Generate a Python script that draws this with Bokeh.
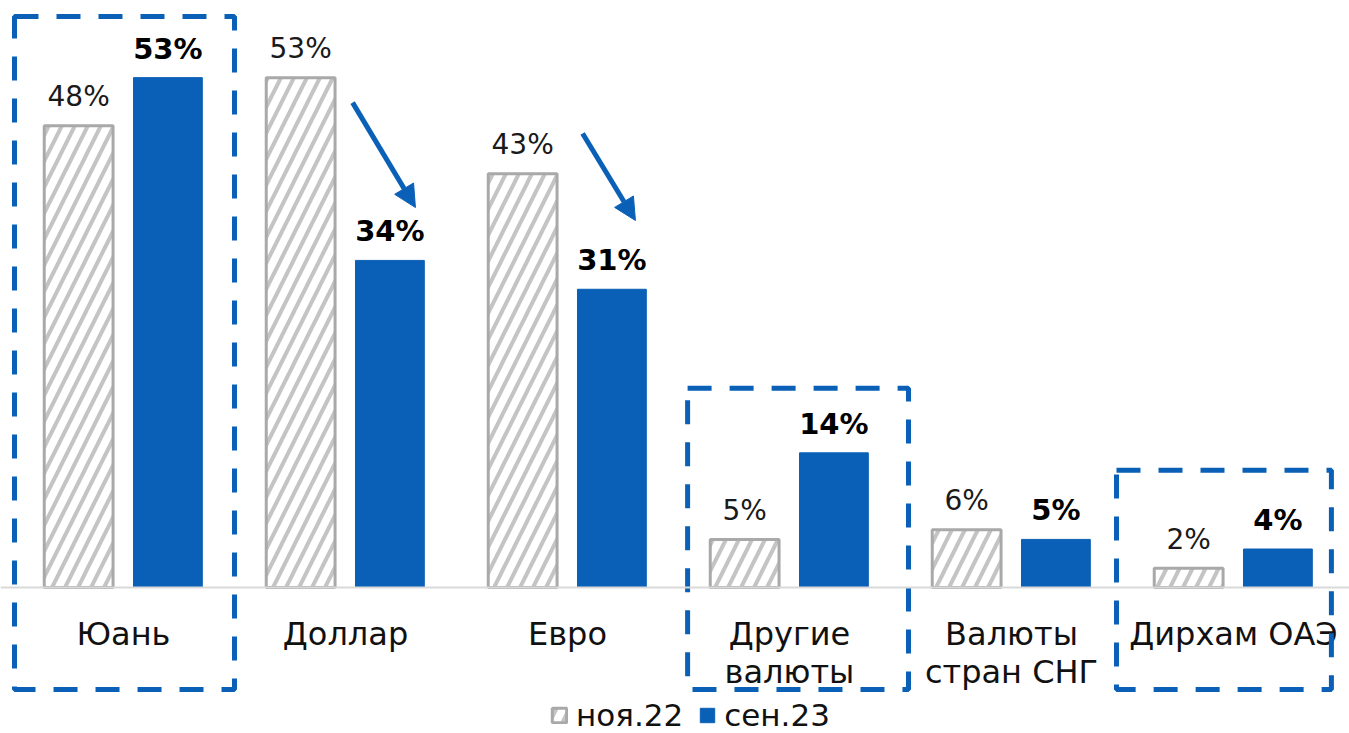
from bokeh.plotting import figure
from bokeh.models import (ColumnDataSource, Range1d, Span, Arrow, NormalHead,
                          Legend, LegendItem)
from bokeh.transform import dodge
from bokeh.embed import file_html
from bokeh.resources import INLINE
from bokeh.core.properties import value

# ---- data ----
categories = ["Юань", "Доллар", "Евро", "Другие\nвалюты", "Валюты\nстран СНГ", "Дирхам ОАЭ"]
nov22 = [48, 53, 43, 5, 6, 2]
sep23 = [53, 34, 31, 14, 5, 4]
series_names = ["ноя.22", "сен.23"]

FONT = "DejaVu Sans"
BLUE = "#0A60B6"
GRAY_LINE = "#A9A9A9"
GRAY_HATCH = "#C4C4C4"

idx = list(range(len(categories)))
src = ColumnDataSource(dict(
    x=idx,
    cat=categories,
    nov=nov22,
    sep=sep23,
    nov_lbl=[f"{v}%" for v in nov22],
    sep_lbl=[f"{v}%" for v in sep23],
))

W, H = 1349, 733
PX_X, PX_Y = 222.0, 9.62
x0 = -123 / PX_X
y_top = 587 / PX_Y
p = figure(width=W, height=H, output_backend="svg", toolbar_location=None,
           x_range=Range1d(x0, x0 + W / PX_X), y_range=Range1d(y_top - H / PX_Y, y_top),
           min_border=0, outline_line_color=None)
p.axis.visible = False
p.grid.visible = False
p.background_fill_color = "white"

r_nov = p.vbar(x=dodge("x", -0.202, range=p.x_range), top="nov", width=0.31, source=src,
               fill_color="white", line_color=GRAY_LINE, line_width=3,
               hatch_pattern="right_diagonal_line", hatch_color=GRAY_HATCH,
               hatch_weight=4, hatch_scale=26)
r_sep = p.vbar(x=dodge("x", 0.2, range=p.x_range), top="sep", width=0.31, source=src,
               fill_color=BLUE, line_color=BLUE, line_width=1)

p.add_layout(Span(location=0, dimension="width", line_color="#D9D9D9", line_width=2))

# value labels
p.text(x=dodge("x", -0.202, range=p.x_range), y="nov", text="nov_lbl", source=src,
       text_align="center", text_baseline="middle", y_offset=-29,
       text_font=value(FONT), text_font_size="28px", text_color="#1a1a1a")
p.text(x=dodge("x", 0.2, range=p.x_range), y="sep", text="sep_lbl", source=src,
       text_align="center", text_baseline="middle", y_offset=-29,
       text_font=value(FONT), text_font_size="29px", text_font_style="bold",
       text_color="#000000")

# category labels
p.text(x="x", y=0, text="cat", source=src, text_align="center", text_baseline="top",
       y_offset=27, text_font=value(FONT), text_font_size="32px", text_color="#111111",
       text_line_height=1.0)

# dashed highlight boxes
p.quad(left=[-0.491, 2.541, 4.473], right=[0.5, 3.536, 5.441],
       top=[59.36, 20.7, 12.2], bottom=[-10.6, -10.6, -10.6],
       fill_color=None, line_color=BLUE, line_width=5, line_dash="24 18")

# arrows
for xs, ys, xe, ye in [(1.032, 50.4, 1.315, 39.5), (2.068, 47.2, 2.306, 38.15)]:
    p.add_layout(Arrow(x_start=xs, y_start=ys, x_end=xe, y_end=ye,
                       line_color=BLUE, line_width=5,
                       end=NormalHead(size=22, fill_color=BLUE, line_color=BLUE)))

legend = Legend(items=[LegendItem(label=series_names[0], renderers=[r_nov]),
                       LegendItem(label=series_names[1], renderers=[r_sep])],
                location=(550, 0), orientation="horizontal",
                label_text_font=FONT, label_text_font_size="31px",
                label_text_color="#111111",
                glyph_width=18, glyph_height=18, label_standoff=8, spacing=15,
                padding=0, margin=0, border_line_color=None,
                background_fill_alpha=0)
p.add_layout(legend)

open("out.html", "w").write(file_html(p, INLINE))
